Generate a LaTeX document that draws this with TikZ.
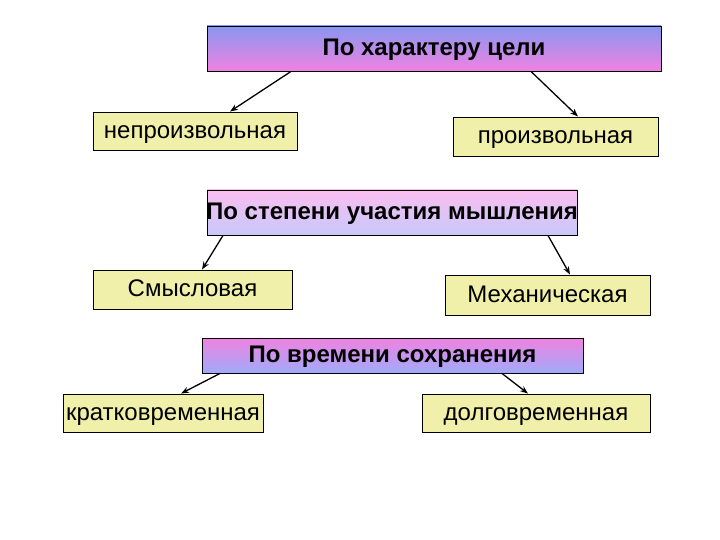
\documentclass[tikz,border=0pt]{standalone}
\usepackage{fontspec}
\setmainfont{Liberation Sans}
\usetikzlibrary{arrows.meta}

\definecolor{boxyellow}{RGB}{240,240,170}
\definecolor{topblue}{RGB}{135,150,240}
\definecolor{botpink}{RGB}{240,130,225}
\definecolor{lightpink}{RGB}{250,190,240}
\definecolor{lightlav}{RGB}{200,200,250}
\definecolor{lavblue}{RGB}{160,170,250}

\tikzset{
  leaf/.style={draw, fill=boxyellow, line width=0.9pt, inner sep=0pt, font=\fontsize{24}{28}\selectfont},
  head/.style={draw, line width=0.9pt, inner sep=0pt, font=\bfseries\fontsize{24}{28}\selectfont},
  arr/.style={line width=1.3pt, -{Stealth[length=8pt,width=6pt]}}
}

% text centred on the box, free to run over its edges
\newcommand{\boxtext}[1]{\raisebox{-0.31em}[0pt][0pt]{\makebox[0pt]{#1}}}

\begin{document}
\begin{tikzpicture}[x=1pt, y=-1pt]
    \useasboundingbox (0,0) rectangle (720,540);

    % by goal
    \node[head, top color=topblue, bottom color=botpink, minimum width=454pt, minimum height=45pt] (cel) at (434,48.5) {\boxtext{По характеру цели}};
    \node[leaf, minimum width=204pt, minimum height=38pt] (nepr) at (195,131) {\boxtext{непроизвольная}};
    \node[leaf, minimum width=205pt, minimum height=39pt] (proizv) at (555.5,136.5) {\boxtext{произвольная}};
    \draw[arr] ([xshift=-143pt]cel.south) -- ([xshift=35pt]nepr.north);
    \draw[arr] ([xshift=97pt]cel.south) -- ([xshift=22.5pt]proizv.north);

    % by thinking
    \node[head, top color=lightpink, bottom color=lightlav, minimum width=370pt, minimum height=45pt] (mysl) at (392,212.5) {\boxtext{По степени участия мышления}};
    \node[leaf, minimum width=199pt, minimum height=39pt] (smysl) at (192.5,289.5) {\boxtext{Смысловая}};
    \node[leaf, minimum width=205pt, minimum height=40pt] (mekh) at (547.5,295) {\boxtext{Механическая}};
    \draw[arr] ([xshift=-169pt]mysl.south) -- ([xshift=9.5pt]smysl.north);
    \draw[arr] ([xshift=156pt]mysl.south) -- ([xshift=22.5pt]mekh.north);

    % by storage time
    \node[head, top color=botpink, bottom color=lavblue, minimum width=381pt, minimum height=35pt] (vrem) at (392.5,355.5) {\boxtext{По времени сохранения}};
    \node[leaf, minimum width=200pt, minimum height=38pt] (krat) at (163,413) {\boxtext{кратковременная}};
    \node[leaf, minimum width=228pt, minimum height=38pt] (dolg) at (536,413) {\boxtext{долговременная}};
    \draw[arr] ([xshift=-172.5pt]vrem.south) -- ([xshift=18pt]krat.north);
    \draw[arr] ([xshift=109.5pt]vrem.south) -- ([xshift=-8pt]dolg.north);

\end{tikzpicture}
\end{document}
